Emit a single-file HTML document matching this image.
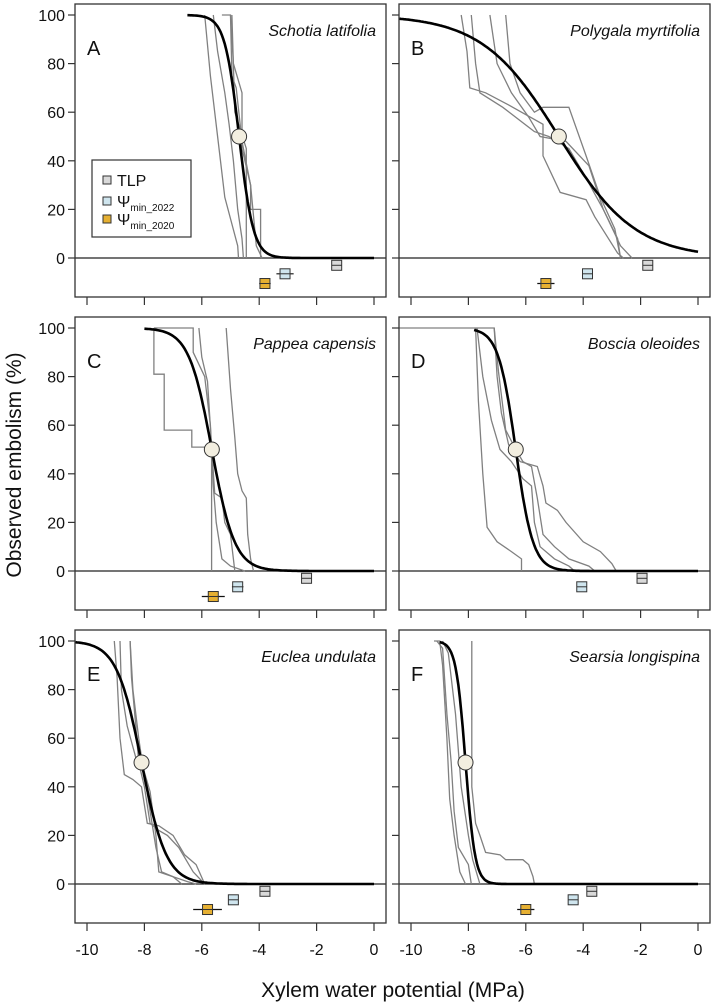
<!DOCTYPE html>
<html><head><meta charset="utf-8"><style>
html,body{margin:0;padding:0;background:#fff;}
svg{display:block;font-family:"Liberation Sans",Arial,sans-serif;}
</style></head><body>
<svg id="chart" width="711" height="1003" viewBox="0 0 711 1003" xmlns="http://www.w3.org/2000/svg">
<text x="0" y="0" transform="translate(21,465) rotate(-90)" text-anchor="middle" font-size="21" fill="#111">Observed embolism (%)</text>
<text x="393" y="997" text-anchor="middle" font-size="21" fill="#111">Xylem water potential (MPa)</text>
</svg>
<script>
const panelLetters = ["A","B","C","D","E","F"];
const speciesNames = ["Schotia latifolia","Polygala myrtifolia","Pappea capensis","Boscia oleoides","Euclea undulata","Searsia longispina"];
const p50Values = [-4.7,-4.85,-5.65,-6.35,-8.1,-8.1];
const slopeValues = [4.0,0.75,2.5,3.3,2.3,6.0];
const curveStart = [-6.5,-10.4,-8.0,-7.8,-10.4,-9.0];
const tlpValues = [-1.3,-1.75,-2.35,-1.95,-3.8,-3.7];
const psiMin2022 = [-3.1,-3.85,-4.75,-4.05,-4.9,-4.35];
const psiMin2022Err = [0.3,0.1,0.2,0.1,0.1,0.15];
const psiMin2020 = [-3.8,-5.3,-5.6,null,-5.8,-6.0];
const psiMin2020Err = [0.2,0.3,0.4,0,0.5,0.3];
const xTicks = [-10,-8,-6,-4,-2,0];
const yTicks = [0,20,40,60,80,100];
const observedCurves = [
 [[[-5.9,100],[-5.7,75],[-5.45,50],[-5.2,25],[-4.75,5],[-4.72,0]],
  [[-5.6,100],[-5.45,85],[-5.2,68],[-5.05,55],[-4.9,40],[-4.75,20],[-4.6,8],[-4.55,0]],
  [[-5.3,100],[-5.0,100],[-4.95,75],[-4.8,70],[-4.6,48],[-4.3,30],[-4.1,5],[-3.9,0]],
  [[-5.0,100],[-4.9,80],[-4.6,68],[-4.6,45],[-4.3,30],[-4.3,20],[-3.95,20],[-3.95,0]],
  [[-4.95,100],[-4.85,60],[-4.45,45],[-4.45,0]]],
 [[[-8.25,100],[-8.05,85],[-7.95,70],[-7.4,68],[-6.6,63],[-5.4,55],[-5.4,42],[-4.8,27],[-3.9,24],[-3.6,17],[-2.8,2],[-2.6,0]],
  [[-7.9,100],[-7.75,80],[-7.6,68],[-6.8,62],[-5.7,52],[-5.2,50],[-4.5,45],[-4.0,35],[-3.3,20],[-2.8,8],[-2.7,0]],
  [[-7.25,100],[-7.0,80],[-6.5,68],[-5.9,58],[-5.5,50],[-4.6,48],[-3.8,38],[-3.3,20],[-2.7,5],[-2.3,0]],
  [[-6.7,100],[-6.55,80],[-6.2,68],[-5.7,60],[-5.4,62],[-4.5,62],[-3.9,42],[-3.4,25],[-2.9,12],[-2.7,0]]],
 [[[-7.67,100],[-7.67,81],[-7.31,81],[-7.31,58],[-6.35,58],[-6.35,51],[-5.66,51],[-5.66,0]],
  [[-7.67,100],[-6.3,100],[-6.3,90],[-5.9,80],[-5.7,60],[-5.6,35],[-5.5,20],[-5.3,5],[-5.0,2],[-4.5,0]],
  [[-6.1,100],[-6.0,88],[-5.8,78],[-5.65,50],[-5.55,32],[-5.3,30],[-5.2,20],[-5.0,15],[-4.9,5],[-4.85,0]],
  [[-5.15,100],[-5.0,75],[-4.85,55],[-4.75,40],[-4.6,33],[-4.45,30],[-4.4,15],[-4.3,5],[-4.2,0]]],
 [[[-7.75,100],[-7.65,70],[-7.5,40],[-7.35,18],[-7.0,12],[-6.5,8],[-6.15,5],[-6.15,0]],
  [[-7.7,100],[-7.5,80],[-7.2,62],[-6.9,50],[-6.5,45],[-6.1,38],[-5.8,35],[-5.7,20],[-5.5,10],[-5.0,5],[-4.5,2],[-4.3,0]],
  [[-10.4,100],[-7.1,100],[-7.0,80],[-6.85,65],[-6.6,52],[-6.2,45],[-5.6,43],[-5.4,35],[-5.3,28],[-4.9,25],[-4.6,20],[-4.0,12],[-3.4,8],[-3.0,3],[-2.85,0]],
  [[-7.1,100],[-6.95,82],[-6.7,58],[-6.35,50],[-6.1,45],[-5.8,43],[-5.6,30],[-5.4,15],[-5.0,10],[-4.5,5],[-3.8,2],[-3.6,0]]],
 [[[-9.05,100],[-8.95,85],[-8.85,60],[-8.7,45],[-8.4,43],[-8.1,40],[-7.9,25],[-7.5,24],[-7.0,20],[-6.6,12],[-6.2,8],[-5.9,0]],
  [[-8.85,100],[-8.8,80],[-8.6,65],[-8.3,52],[-8.0,45],[-7.8,30],[-7.6,15],[-7.4,5],[-7.0,3],[-6.5,1],[-6.2,0]],
  [[-8.5,100],[-8.45,85],[-8.3,65],[-8.2,50],[-8.0,40],[-7.8,25],[-7.5,22],[-7.2,20],[-6.8,15],[-6.3,5],[-5.9,0]],
  [[-8.5,100],[-8.4,80],[-8.2,60],[-8.05,48],[-7.8,38],[-7.6,20],[-7.5,5],[-7.0,3],[-6.7,0]]],
 [[[-9.2,100],[-9.0,100],[-8.9,90],[-8.75,60],[-8.65,35],[-8.5,20],[-8.3,5],[-8.1,0]],
  [[-9.1,100],[-8.9,97],[-8.75,70],[-8.6,50],[-8.5,30],[-8.35,15],[-8.0,8],[-7.9,0]],
  [[-7.88,100],[-7.88,40],[-7.75,25],[-7.6,20],[-7.4,13],[-6.9,12],[-6.7,10],[-6.1,10],[-5.9,8],[-5.75,3],[-5.7,0]],
  [[-8.9,100],[-8.7,95],[-8.45,70],[-8.25,40],[-8.0,20],[-7.85,10],[-7.6,0]]]
];

const NS="http://www.w3.org/2000/svg";
const svg=document.getElementById('chart');
function mk(tag,attrs,parent){const e=document.createElementNS(NS,tag);for(const k in attrs)e.setAttribute(k,attrs[k]);(parent||svg).appendChild(e);return e;}

const colLeft=[75,399], rowTop=[4,317,630], W=311, H=293;
for(let i=0;i<6;i++){
  const col=i%2,row=Math.floor(i/2);
  const L=colLeft[col],T=rowTop[row];
  const x0=L+12, pxPerMPa=28.7;
  const xs=v=>x0+(v+10)*pxPerMPa;
  const ys=v=>T+254-v*2.43;
  const g=mk('g',{});
  
  
  const zl=mk('line',{x1:L,x2:L+W,y1:ys(0),y2:ys(0),stroke:'#222','stroke-width':1.2},g);
  
  observedCurves[i].forEach((c,j)=>{
    const p=mk('polyline',{points:c.map(q=>xs(q[0]).toFixed(1)+','+ys(q[1]).toFixed(1)).join(' '),fill:'none',stroke:'#808080','stroke-width':1.3},g);
    
  });
  const pts=[];
  for(let v=curveStart[i];v<=0.0001;v+=0.05){const y=100/(1+Math.exp(slopeValues[i]*(v-p50Values[i])));pts.push(xs(v).toFixed(1)+','+ys(y).toFixed(1));}
  const fc=mk('polyline',{points:pts.join(' '),fill:'none',stroke:'#000','stroke-width':2.6},g);
  
  const c50=mk('circle',{cx:xs(p50Values[i]),cy:ys(50),r:7.5,fill:'#f2eee0',stroke:'#333','stroke-width':1},g);
  
  function marker(v,err,yv,fill,name){
    if(v===null)return;
    if(err>0){const el=mk('line',{x1:xs(v-err),x2:xs(v+err),y1:ys(yv),y2:ys(yv),stroke:'#111','stroke-width':1.2},g);
      }
    const r=mk('rect',{x:xs(v)-5,y:ys(yv)-5,width:10,height:10,fill:fill,stroke:'#333','stroke-width':1},g);
    
    const h=mk('line',{x1:xs(v)-5,x2:xs(v)+5,y1:ys(yv),y2:ys(yv),stroke:'#333','stroke-width':1},g);
    
  }
  marker(tlpValues[i],0.1,-3,'#d9d9d9','tlp');
  marker(psiMin2022[i],psiMin2022Err[i],-6.5,'#cfe5ee','psi-min-2022');
  marker(psiMin2020[i],psiMin2020Err[i],-10.5,'#e6b032','psi-min-2020');
  const fr=mk('rect',{x:L,y:T,width:W,height:H,fill:'none',stroke:'#333','stroke-width':1.3},g);
  
  xTicks.forEach(t=>{
    const tk=mk('line',{x1:xs(t),x2:xs(t),y1:T+H,y2:T+H+8,stroke:'#333','stroke-width':1.2},g);
    
    if(row===2){const tl=mk('text',{x:xs(t),y:T+H+32,'text-anchor':'middle','font-size':16,fill:'#111'},g);tl.textContent=String(t);
      }
  });
  yTicks.forEach(t=>{
    const tk=mk('line',{x1:L-7,x2:L,y1:ys(t),y2:ys(t),stroke:'#333','stroke-width':1.2},g);
    
    if(col===0){const tl=mk('text',{x:L-10,y:ys(t)+6,'text-anchor':'end','font-size':16,fill:'#111'},g);tl.textContent=String(t);
      }
  });
  const lt=mk('text',{x:L+12,y:T+51,'font-size':20,fill:'#111'},g);lt.textContent=panelLetters[i];
  
  const st=mk('text',{x:L+W-10,y:T+32,'text-anchor':'end','font-size':16,'font-style':'italic',fill:'#111'},g);st.textContent=speciesNames[i];
  
}
const lg=mk('g',{});


mk('rect',{x:92,y:160,width:99,height:77,fill:'#fff',stroke:'#333','stroke-width':1.2},lg);
const legendItems=[['#d9d9d9',180,'TLP',''],['#cfe5ee',201,'Ψ','min_2022'],['#e6b032',219,'Ψ','min_2020']];
legendItems.forEach(it=>{
  const r=mk('rect',{x:103,y:it[1]-4,width:8,height:8,fill:it[0],stroke:'#333','stroke-width':1},lg);
  
  const t=mk('text',{x:117,y:it[1]+6,'font-size':16,fill:'#111'},lg);
  
  t.textContent=it[2];
  if(it[3]){const s=mk('tspan',{'font-size':10,dy:4},t);s.textContent=it[3];}
});
</script>
</body></html>
